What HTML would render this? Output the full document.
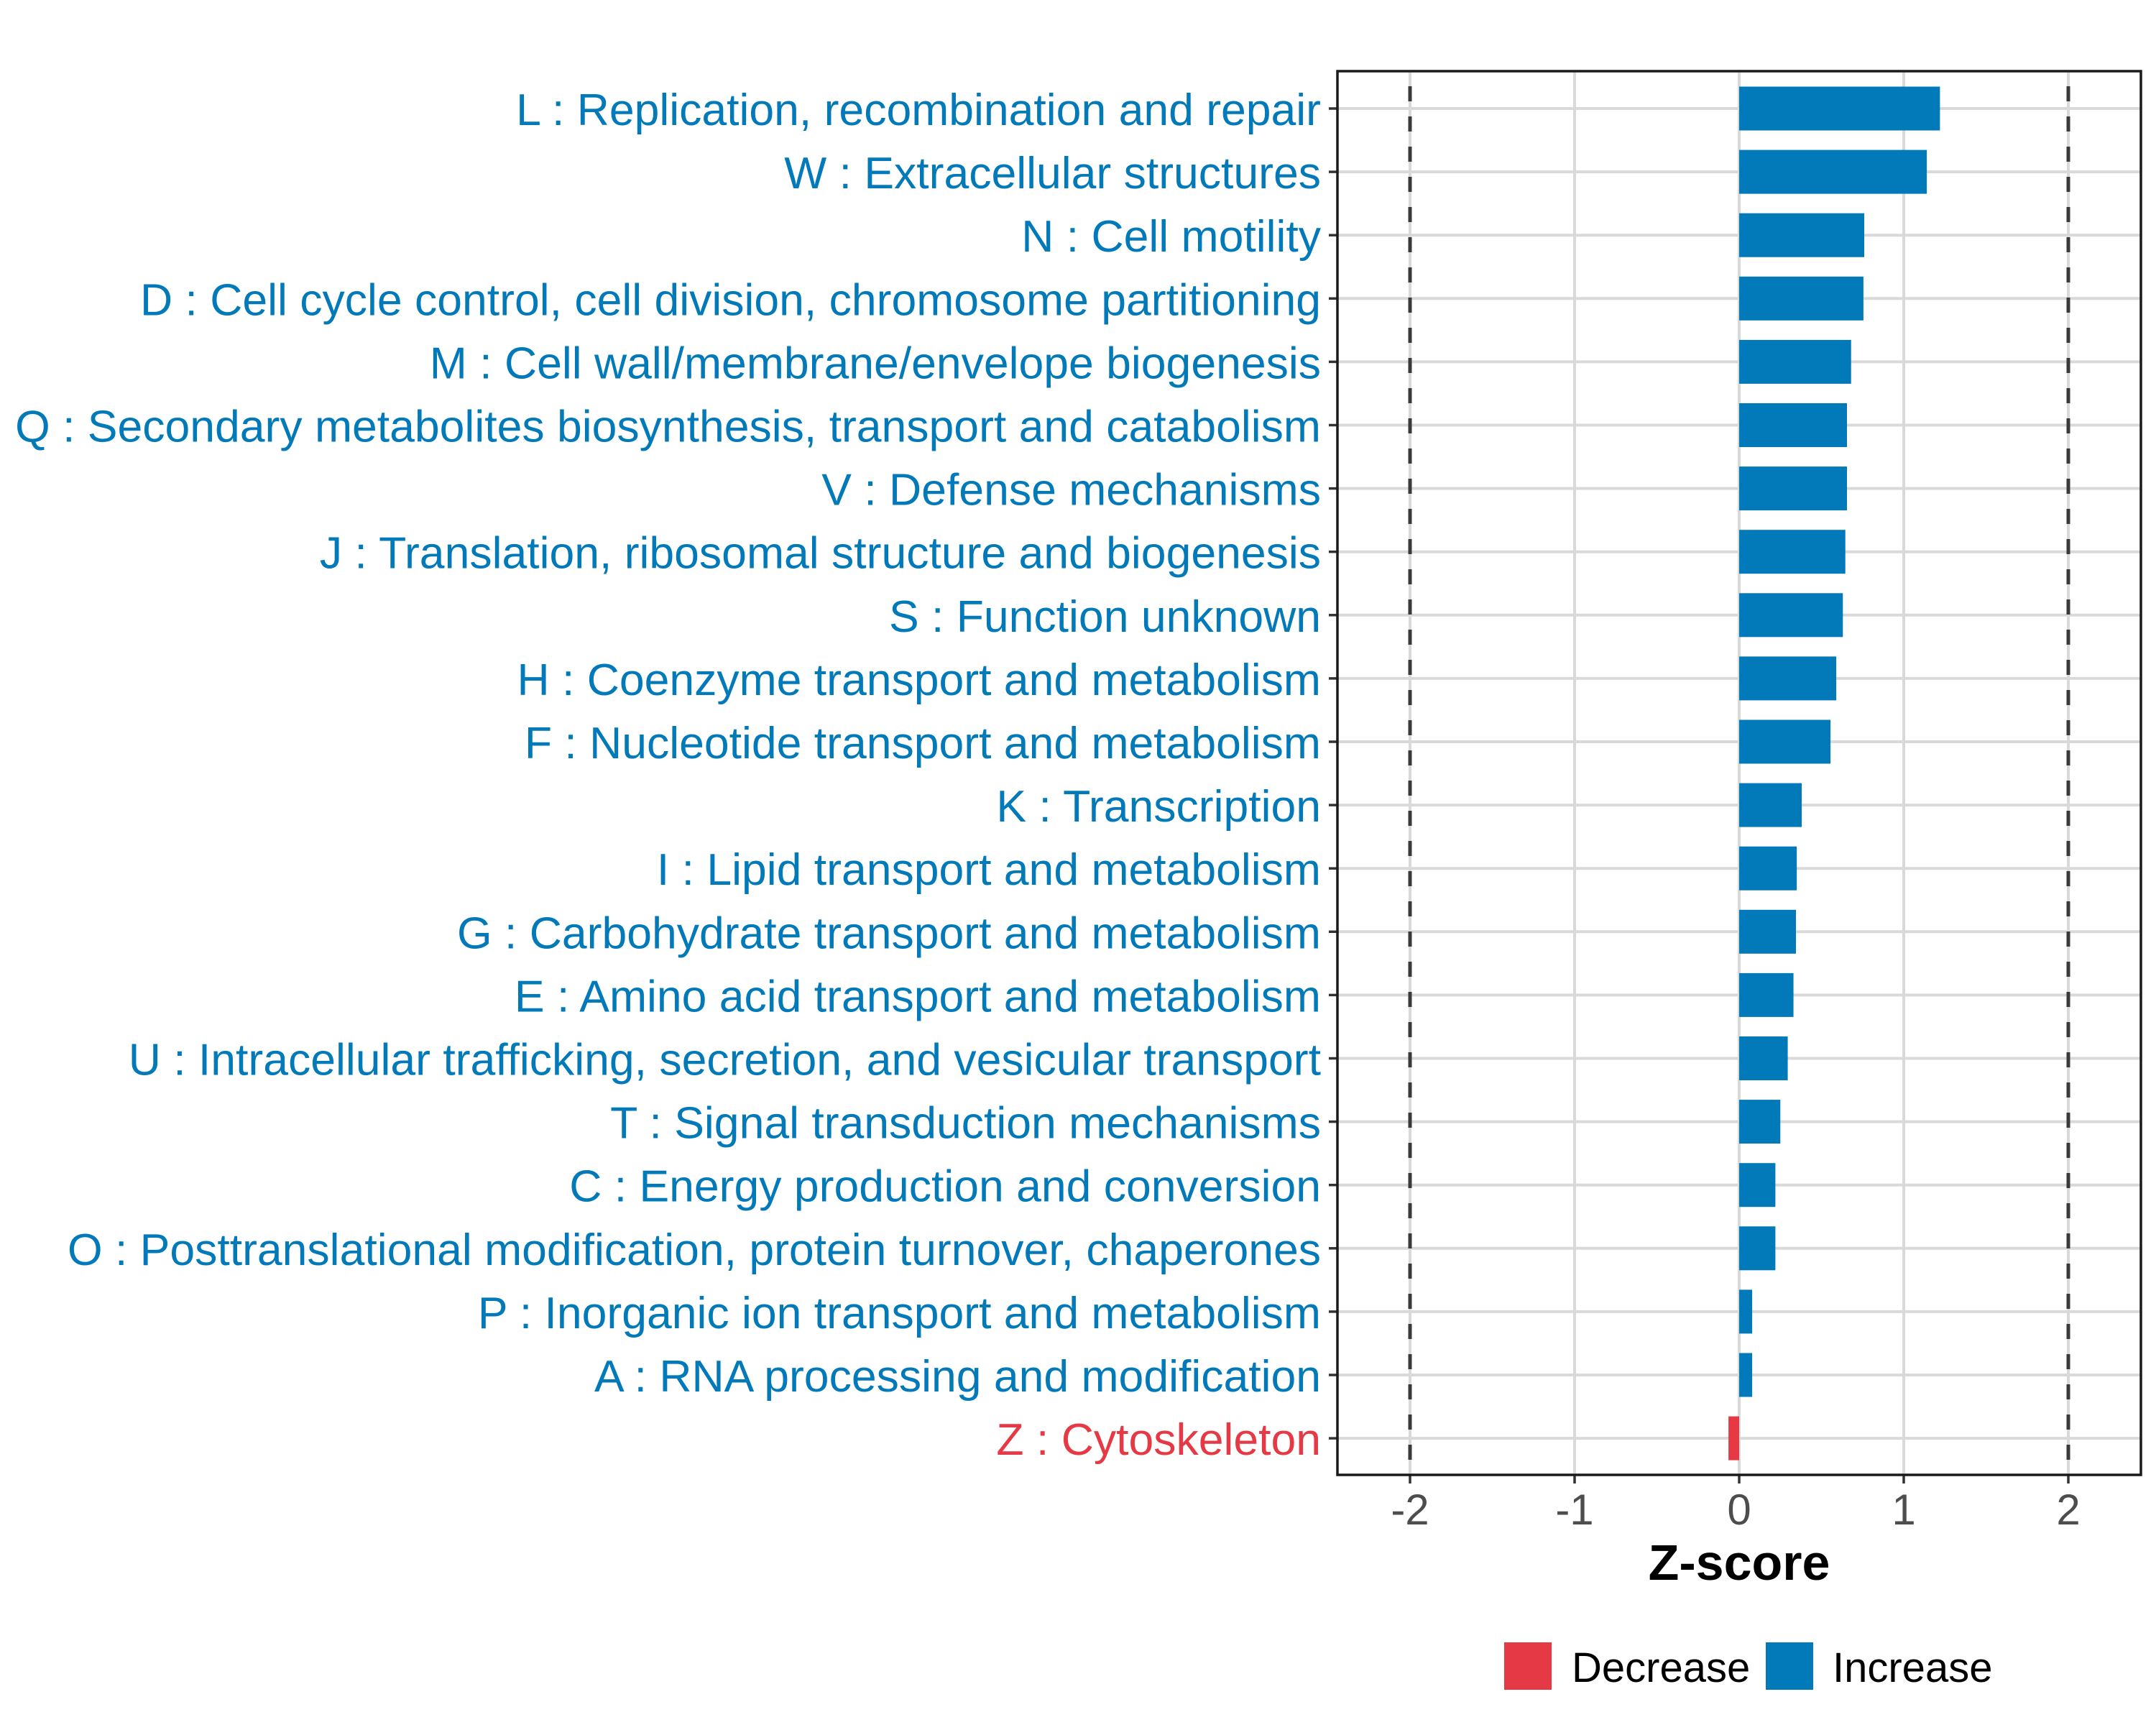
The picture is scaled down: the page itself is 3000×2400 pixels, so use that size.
<!DOCTYPE html>
<html><head><meta charset="utf-8"><style>
html,body{margin:0;padding:0;background:#fff;}
svg{display:block;font-family:"Liberation Sans",Arial,sans-serif;}
</style></head><body>
<svg id="chart" width="3000" height="2400" viewBox="0 0 3000 2400" xmlns="http://www.w3.org/2000/svg">
<rect x="0" y="0" width="3000" height="2400" fill="#fff"/>
<g id="grid"></g>
<g id="bars"></g>
<g id="labels"></g>
<g id="xaxis"></g>
<rect x="1861" y="99" width="1118" height="1953" fill="none" stroke="#1a1a1a" stroke-width="3.5"/>
<text x="2420" y="2198" font-size="70" font-weight="bold" text-anchor="middle" fill="#000">Z-score</text>
<g>
<rect x="2093" y="2285" width="66" height="66" fill="#E63946"/>
<text x="2187" y="2340" font-size="58" fill="#000">Decrease</text>
<rect x="2457" y="2285" width="66" height="66" fill="#0279B8"/>
<text x="2550" y="2340" font-size="58" fill="#000">Increase</text>
</g>
</svg>
<script>
const categories = [
"L : Replication, recombination and repair",
"W : Extracellular structures",
"N : Cell motility",
"D : Cell cycle control, cell division, chromosome partitioning",
"M : Cell wall/membrane/envelope biogenesis",
"Q : Secondary metabolites biosynthesis, transport and catabolism",
"V : Defense mechanisms",
"J : Translation, ribosomal structure and biogenesis",
"S : Function unknown",
"H : Coenzyme transport and metabolism",
"F : Nucleotide transport and metabolism",
"K : Transcription",
"I : Lipid transport and metabolism",
"G : Carbohydrate transport and metabolism",
"E : Amino acid transport and metabolism",
"U : Intracellular trafficking, secretion, and vesicular transport",
"T : Signal transduction mechanisms",
"C : Energy production and conversion",
"O : Posttranslational modification, protein turnover, chaperones",
"P : Inorganic ion transport and metabolism",
"A : RNA processing and modification",
"Z : Cytoskeleton"
];
const zscores = [1.22,1.14,0.76,0.755,0.68,0.655,0.655,0.645,0.63,0.59,0.555,0.38,0.35,0.345,0.33,0.295,0.25,0.22,0.22,0.079,0.079,-0.065];
const xTicks = [-2,-1,0,1,2];
const xTickLabels = ["-2","-1","0","1","2"];
const thresholds = [-2,2];

const NS="http://www.w3.org/2000/svg";
const panel={l:1861,r:2979,t:99,b:2052};
const xs=v=>2420+v*229;
const ys=i=>151+i*88.1;
const BLUE="#0279B8", RED="#E63946";
function mk(tag,attrs,parent){const e=document.createElementNS(NS,tag);for(const k in attrs)e.setAttribute(k,attrs[k]);parent.appendChild(e);return e;}
const grid=document.getElementById('grid'),bars=document.getElementById('bars'),labels=document.getElementById('labels'),xaxis=document.getElementById('xaxis');

xTicks.forEach((t,i)=>{
  const g=mk('line',{x1:xs(t),x2:xs(t),y1:panel.t,y2:panel.b,stroke:'#d9d9d9','stroke-width':4},grid);
  
  
  const tk=mk('line',{x1:xs(t),x2:xs(t),y1:panel.b,y2:panel.b+12,stroke:'#333','stroke-width':3.5},xaxis);
  
  
  const tl=mk('text',{x:xs(t),y:2121,'font-size':60,'text-anchor':'middle',fill:'#4d4d4d'},xaxis);
  tl.textContent=xTickLabels[i];
  
  
});
categories.forEach((c,i)=>{
  const g=mk('line',{x1:panel.l,x2:panel.r,y1:ys(i),y2:ys(i),stroke:'#d9d9d9','stroke-width':4},grid);
  
  
});
thresholds.forEach(t=>{
  const d=mk('line',{x1:xs(t),x2:xs(t),y1:panel.t,y2:panel.b,stroke:'#3a3a3a','stroke-width':5,'stroke-dasharray':'21 21','stroke-dashoffset':'-21'},grid);
  
  
});
categories.forEach((c,i)=>{
  const v=zscores[i];
  const col=v<0?RED:BLUE;
  const x0=Math.min(xs(0),xs(v)), w=Math.abs(xs(v)-xs(0));
  const b=mk('rect',{x:x0,y:ys(i)-30.5,width:w,height:61,fill:col},bars);
  
  
  const tk=mk('line',{x1:panel.l-12,x2:panel.l,y1:ys(i),y2:ys(i),stroke:'#333','stroke-width':3.5},labels);
  
  
  const t=mk('text',{x:1838,y:ys(i)+23,'font-size':62.5,'text-anchor':'end',fill:col},labels);
  t.textContent=c;
  
  
});
</script>
</body></html>
